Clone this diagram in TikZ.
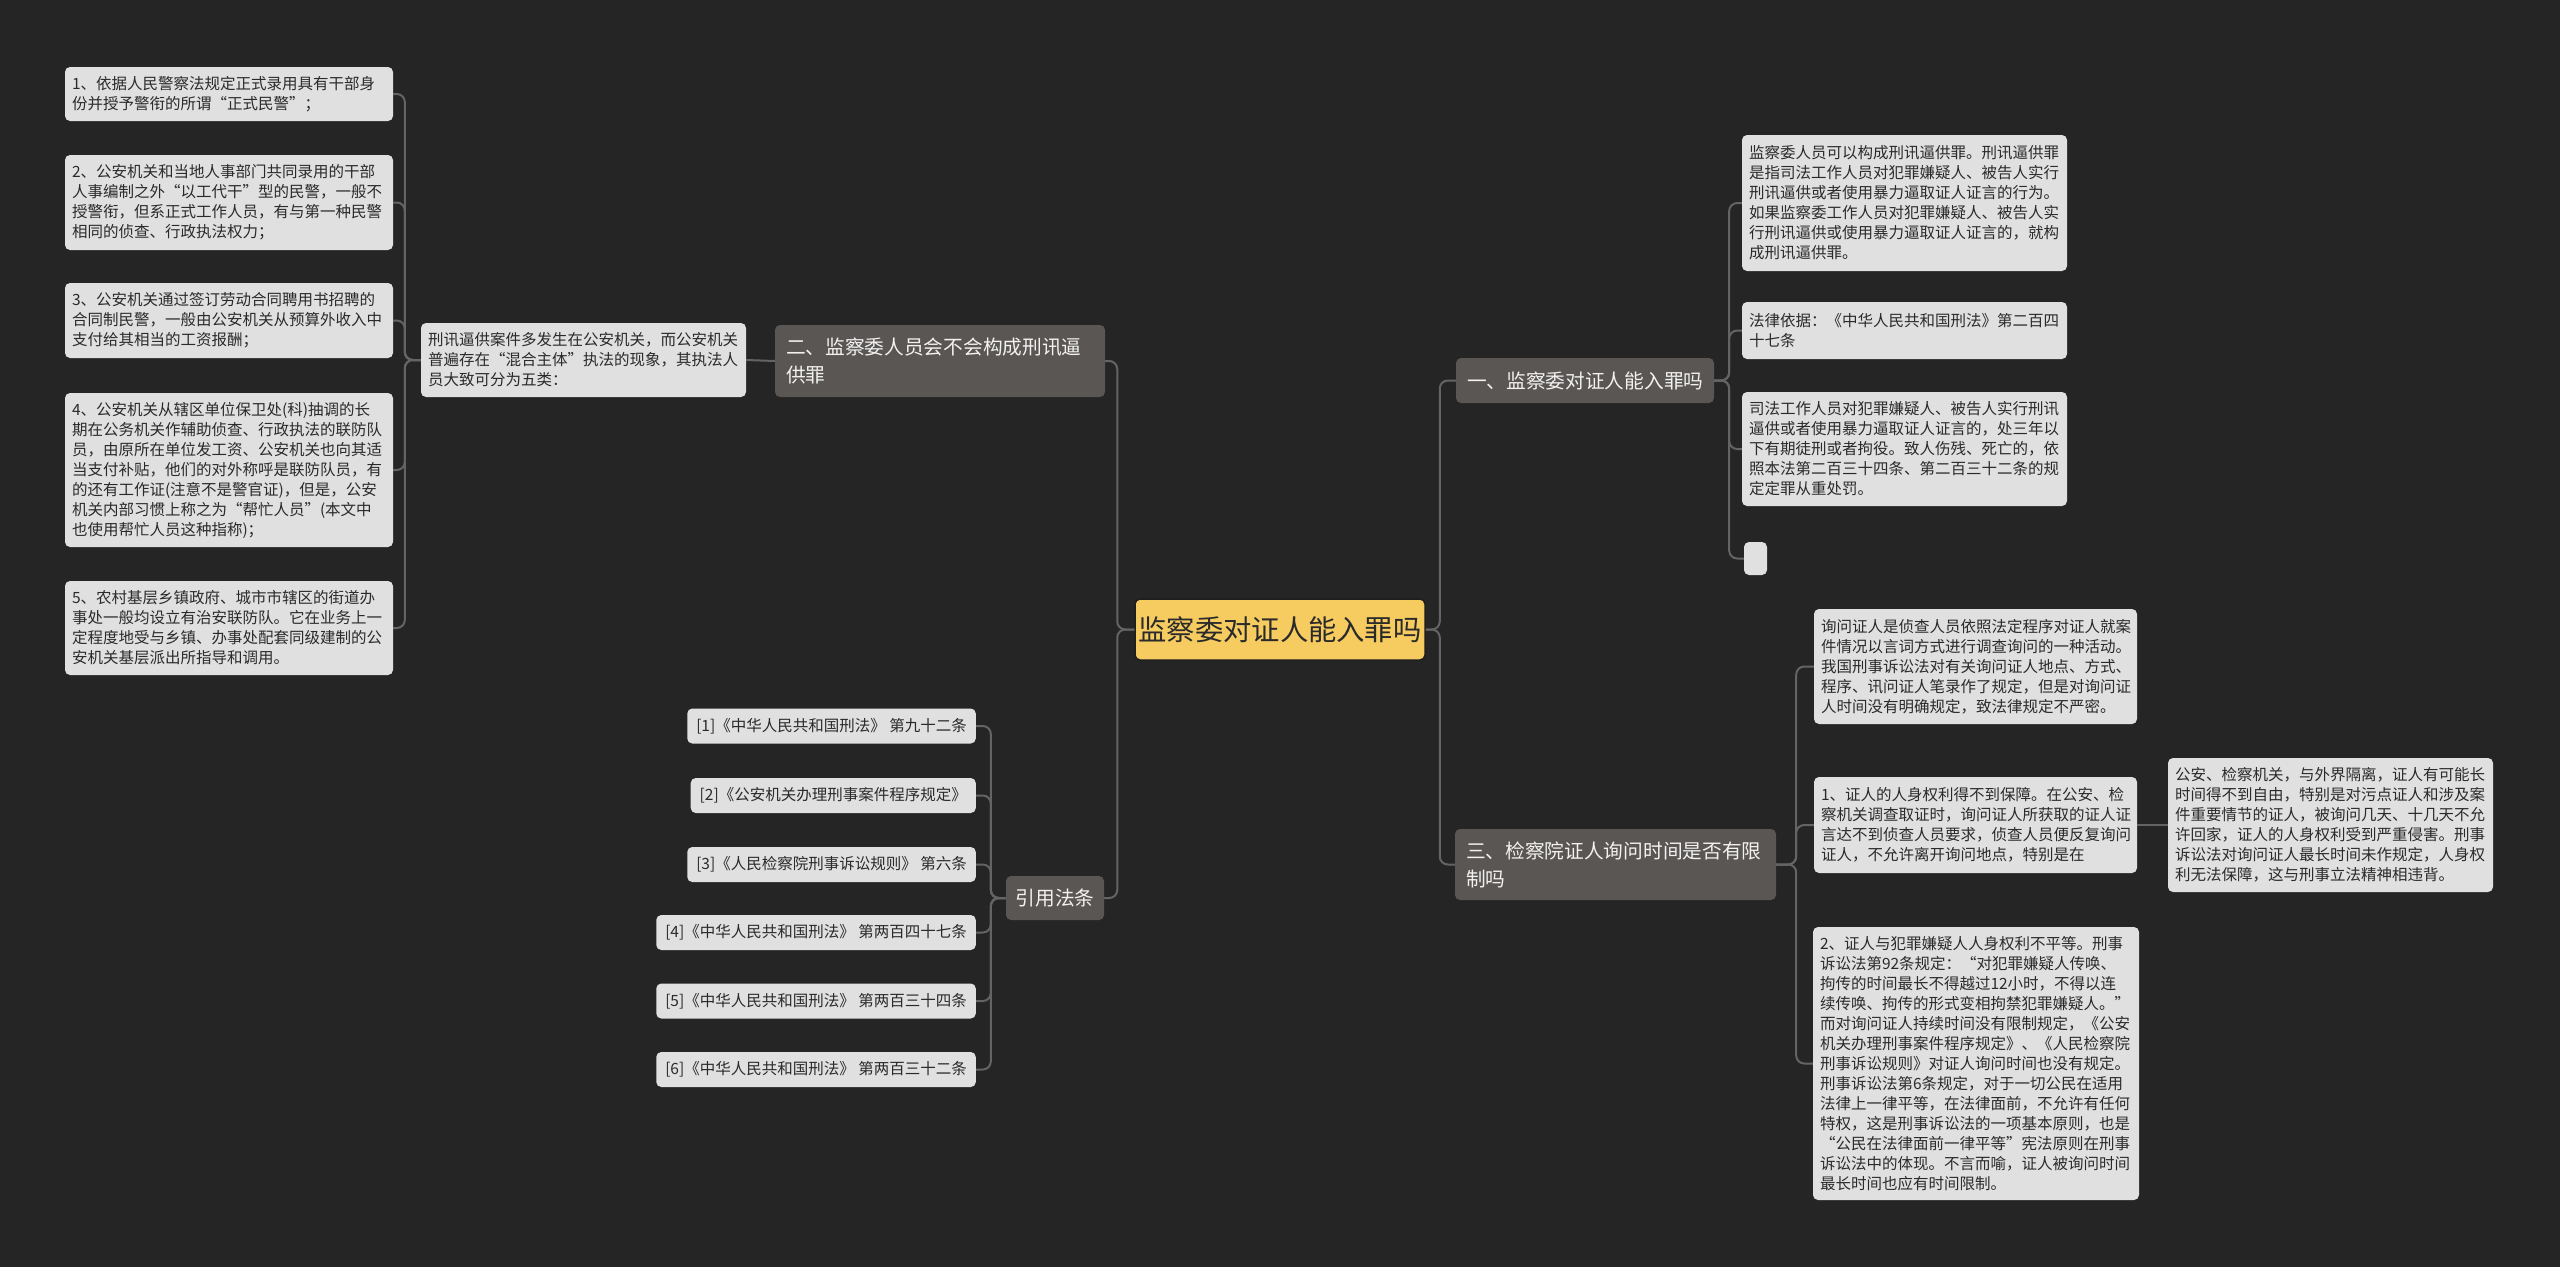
\documentclass[tikz,border=0pt]{standalone}
\usepackage{fontspec}
\newfontfamily\cjk{Noto Sans CJK SC}
\definecolor{bgc}{HTML}{252525}
\definecolor{connc}{HTML}{646464}
\definecolor{leafc}{HTML}{E0E0E0}
\definecolor{leaft}{HTML}{2A2A2A}
\definecolor{branchc}{HTML}{5A5653}
\definecolor{brancht}{HTML}{F2F2F2}
\definecolor{centerc}{HTML}{F6CB60}
\definecolor{centerb}{HTML}{1E1E1E}
\tikzset{
  boxbase/.style={rounded corners=5pt, inner ysep=0pt},
  leaf/.style={boxbase, fill=leafc, text=leaft, inner xsep=7pt, align=left,
    font=\cjk\fontsize{15.5}{20}\selectfont},
  refleaf/.style={boxbase, fill=leafc, text=leaft, inner xsep=9pt, anchor=east,
    minimum height=35pt, font=\cjk\fontsize{15.5}{20}\selectfont},
  branch/.style={boxbase, fill=branchc, text=brancht, inner xsep=11pt, align=left,
    font=\cjk\fontsize{19.7}{28}\selectfont},
  centerbox/.style={boxbase, fill=centerc, draw=centerb, line width=1.5pt, text=leaft,
    align=center, font=\cjk\fontsize{28.3}{34}\selectfont},
  conn/.style={draw=connc, line width=2pt, rounded corners=8pt}
}
\begin{document}
\begin{tikzpicture}[x=1pt,y=-1pt]
\fill[bgc] (0,0) rectangle (2560,1267);
\useasboundingbox (0,0) rectangle (2560,1267);

% center
\node[centerbox, minimum width=290pt, minimum height=61pt] (C) at (1280,629.5) {监察委对证人能入罪吗};

% branch 2 and its children
\node[branch, text width=308pt, minimum height=72pt] (B2) at (940,361) {二、监察委人员会不会构成刑讯逼\\供罪};
\node[leaf, text width=311pt, minimum height=74pt] (X) at (583.5,360) {刑讯逼供案件多发生在公安机关，而公安机关\\普遍存在“混合主体”执法的现象，其执法人\\员大致可分为五类：};
\node[leaf, text width=314pt, minimum height=54pt] (L1) at (229,94) {1、依据人民警察法规定正式录用具有干部身\\份并授予警衔的所谓“正式民警”；};
\node[leaf, text width=314pt, minimum height=95pt] (L2) at (229,202.5) {2、公安机关和当地人事部门共同录用的干部\\人事编制之外“以工代干”型的民警，一般不\\授警衔，但系正式工作人员，有与第一种民警\\相同的侦查、行政执法权力；};
\node[leaf, text width=314pt, minimum height=75pt] (L3) at (229,320.5) {3、公安机关通过签订劳动合同聘用书招聘的\\合同制民警，一般由公安机关从预算外收入中\\支付给其相当的工资报酬；};
\node[leaf, text width=314pt, minimum height=154pt] (L4) at (229,470) {4、公安机关从辖区单位保卫处(科)抽调的长\\期在公务机关作辅助侦查、行政执法的联防队\\员，由原所在单位发工资、公安机关也向其适\\当支付补贴，他们的对外称呼是联防队员，有\\的还有工作证(注意不是警官证)，但是，公安\\机关内部习惯上称之为“帮忙人员”(本文中\\也使用帮忙人员这种指称)；};
\node[leaf, text width=314pt, minimum height=94pt] (L5) at (229,628) {5、农村基层乡镇政府、城市市辖区的街道办\\事处一般均设立有治安联防队。它在业务上一\\定程度地受与乡镇、办事处配套同级建制的公\\安机关基层派出所指导和调用。};

% references
\node[branch, align=center, minimum width=98pt, minimum height=44pt, inner xsep=9pt] (Q) at (1055,898) {引用法条};
\node[refleaf] (R1) at (976,726) {[1]《中华人民共和国刑法》 第九十二条};
\node[refleaf] (R2) at (976,795.5) {[2]《公安机关办理刑事案件程序规定》};
\node[refleaf] (R3) at (976,864.5) {[3]《人民检察院刑事诉讼规则》 第六条};
\node[refleaf] (R4) at (976,932.5) {[4]《中华人民共和国刑法》 第两百四十七条};
\node[refleaf] (R5) at (976,1001) {[5]《中华人民共和国刑法》 第两百三十四条};
\node[refleaf] (R6) at (976,1069.5) {[6]《中华人民共和国刑法》 第两百三十二条};

% branch 1
\node[branch, text width=236pt, minimum height=45pt] (B1) at (1585,380.5) {一、监察委对证人能入罪吗};
\node[leaf, text width=311pt, minimum height=136pt] (Ra) at (1904.5,203) {监察委人员可以构成刑讯逼供罪。刑讯逼供罪\\是指司法工作人员对犯罪嫌疑人、被告人实行\\刑讯逼供或者使用暴力逼取证人证言的行为。\\如果监察委工作人员对犯罪嫌疑人、被告人实\\行刑讯逼供或使用暴力逼取证人证言的，就构\\成刑讯逼供罪。};
\node[leaf, text width=311pt, minimum height=57pt] (Rb) at (1904.5,330.5) {法律依据：《中华人民共和国刑法》第二百四\\十七条};
\node[leaf, text width=311pt, minimum height=114pt] (Rc) at (1904.5,449) {司法工作人员对犯罪嫌疑人、被告人实行刑讯\\逼供或者使用暴力逼取证人证言的，处三年以\\下有期徒刑或者拘役。致人伤残、死亡的，依\\照本法第二百三十四条、第二百三十二条的规\\定定罪从重处罚。};
\node[boxbase, fill=leafc, inner xsep=0pt, minimum width=23pt, minimum height=33pt] (Re) at (1755.5,558.5) {};

% branch 3
\node[branch, text width=299pt, minimum height=71pt] (B3) at (1615.5,864.5) {三、检察院证人询问时间是否有限\\制吗};
\node[leaf, text width=309pt, minimum height=115pt] (Rd) at (1975.5,666.5) {询问证人是侦查人员依照法定程序对证人就案\\件情况以言词方式进行调查询问的一种活动。\\我国刑事诉讼法对有关询问证人地点、方式、\\程序、讯问证人笔录作了规定，但是对询问证\\人时间没有明确规定，致法律规定不严密。};
\node[leaf, text width=309pt, minimum height=96pt] (Rf) at (1975.5,825) {1、证人的人身权利得不到保障。在公安、检\\察机关调查取证时，询问证人所获取的证人证\\言达不到侦查人员要求，侦查人员便反复询问\\证人，不允许离开询问地点，特别是在};
\node[leaf, text width=312pt, minimum height=273pt] (Rg) at (1976,1063.5) {2、证人与犯罪嫌疑人人身权利不平等。刑事\\诉讼法第92条规定：“对犯罪嫌疑人传唤、\\拘传的时间最长不得越过12小时，不得以连\\续传唤、拘传的形式变相拘禁犯罪嫌疑人。”\\而对询问证人持续时间没有限制规定，《公安\\机关办理刑事案件程序规定》、《人民检察院\\刑事诉讼规则》对证人询问时间也没有规定。\\刑事诉讼法第6条规定，对于一切公民在适用\\法律上一律平等，在法律面前，不允许有任何\\特权，这是刑事诉讼法的一项基本原则，也是\\“公民在法律面前一律平等”宪法原则在刑事\\诉讼法中的体现。不言而喻，证人被询问时间\\最长时间也应有时间限制。};
\node[leaf, text width=311pt, minimum height=134pt] (Rh) at (2330.5,825) {公安、检察机关，与外界隔离，证人有可能长\\时间得不到自由，特别是对污点证人和涉及案\\件重要情节的证人，被询问几天、十几天不允\\许回家，证人的人身权利受到严重侵害。刑事\\诉讼法对询问证人最长时间未作规定，人身权\\利无法保障，这与刑事立法精神相违背。};

% connectors
\draw[conn] (C.west) -- ++(-17,0) |- (B2.east);
\draw[conn] (C.west) -- ++(-17,0) |- (Q.east);
\draw[conn] (C.east) -- ++(14,0) |- (B1.west);
\draw[conn] (C.east) -- ++(14,0) |- (B3.west);
\draw[conn] (B2.west) -- (X.east);
\foreach \n in {L1,L2,L3,L4,L5} \draw[conn] (X.west) -- ++(-16,0) |- (\n.east);
\foreach \n in {R1,R2,R3,R4,R5,R6} \draw[conn] (Q.west) -- ++(-15,0) |- (\n.east);
\foreach \n in {Ra,Rb,Rc,Re} \draw[conn] (B1.east) -- ++(15,0) |- (\n.west);
\foreach \n in {Rd,Rf,Rg} \draw[conn] (B3.east) -- ++(20,0) |- (\n.west);
\draw[conn] (Rf.east) -- (Rh.west);
\end{tikzpicture}
\end{document}
